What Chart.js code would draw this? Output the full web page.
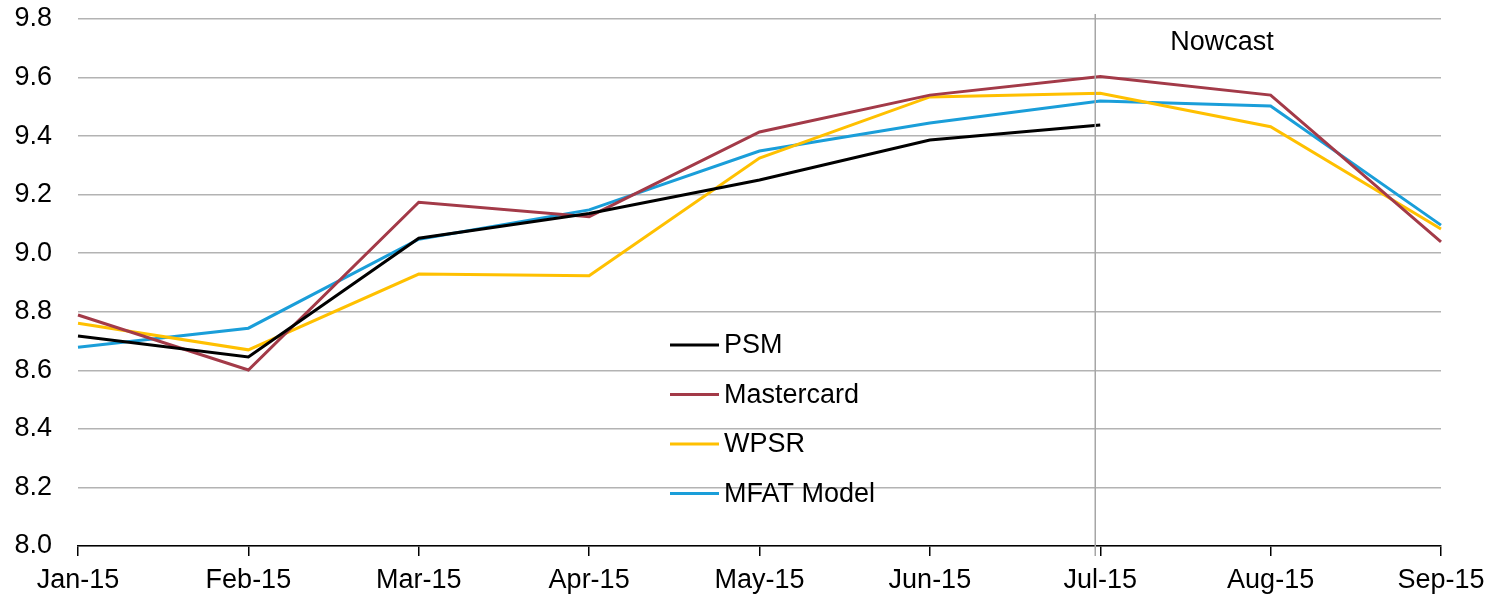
<!DOCTYPE html>
<html>
<head>
<meta charset="utf-8">
<script src="https://cdn.jsdelivr.net/npm/chart.js@4/dist/chart.umd.min.js"></script>
<style>
html,body{margin:0;padding:0;background:#fff;}
#wrap{width:1494px;height:597px;position:relative;}
</style>
</head>
<body>
<div id="wrap"><canvas id="c" width="1494" height="597"></canvas></div>
<script>
const categories = ['Jan-15','Feb-15','Mar-15','Apr-15','May-15','Jun-15','Jul-15','Aug-15','Sep-15'];
const psm        = [8.717, 8.646, 9.051, 9.136, 9.25, 9.387, 9.438, null, null];
const mastercard = [8.789, 8.601, 9.174, 9.125, 9.414, 9.54, 9.604, 9.54, 9.039];
const wpsr       = [8.761, 8.67, 8.929, 8.923, 9.325, 9.534, 9.546, 9.432, 9.083];
const mfat       = [8.679, 8.744, 9.048, 9.148, 9.349, 9.445, 9.52, 9.503, 9.096];
const yTicks     = [8.0, 8.2, 8.4, 8.6, 8.8, 9.0, 9.2, 9.4, 9.6, 9.8];
const nowcastIndex = 6;
const nowcastLabel = 'Nowcast';

const FONT = '"Liberation Sans", Arial, sans-serif';

const overlay = {
  id: 'overlay',
  afterDatasetsDraw(chart) {
    const ctx = chart.ctx;
    const x = chart.scales.x.getPixelForValue(nowcastIndex) - 5;
    ctx.save();
    ctx.strokeStyle = '#a6a6a6';
    ctx.lineWidth = 1.5;
    ctx.beginPath();
    ctx.moveTo(x, 14);
    ctx.lineTo(x, 556);
    ctx.stroke();
    ctx.fillStyle = '#000';
    ctx.font = '27px ' + FONT;
    ctx.textAlign = 'center';
    ctx.textBaseline = 'middle';
    ctx.fillText(nowcastLabel, 1222, 43);
    // legend
    const lx = 670, ly0 = 345, dy = 49.5;
    chart.data.datasets.forEach((ds, i) => {
      const y = ly0 + i * dy;
      ctx.strokeStyle = ds.borderColor;
      ctx.lineWidth = 3;
      ctx.beginPath();
      ctx.moveTo(lx, y);
      ctx.lineTo(lx + 49, y);
      ctx.stroke();
      ctx.fillStyle = '#000';
      ctx.textAlign = 'left';
      ctx.fillText(ds.label, lx + 54, y + 1);
    });
    ctx.restore();
  }
};

new Chart(document.getElementById('c'), {
  type: 'line',
  data: {
    labels: categories,
    datasets: [
      {label:'PSM', data: psm, borderColor:'#000000'},
      {label:'Mastercard', data: mastercard, borderColor:'#a33a48'},
      {label:'WPSR', data: wpsr, borderColor:'#ffc000'},
      {label:'MFAT Model', data: mfat, borderColor:'#1a9ed9'}
    ].map(d => Object.assign(d, {borderWidth:3, pointRadius:0, tension:0, fill:false, spanGaps:false}))
  },
  options: {
    responsive: false,
    animation: false,
    layout: {padding: {top: 19, right: 53, left: 0, bottom: 0}},
    plugins: {legend: {display:false}, tooltip: {enabled:false}},
    scales: {
      x: {
        type: 'category',
        offset: false,
        grid: {drawOnChartArea:false, drawTicks:true, tickLength:10, color:'#000', lineWidth:1.5},
        border: {display:true, color:'#000', width:1.5},
        ticks: {color:'#000', font:{family:FONT, size:27}, padding:8, maxRotation:0, autoSkip:false},
        afterFit(s){ s.height = 51; s.paddingLeft = 0; s.paddingRight = 0; }
      },
      y: {
        min: 8.0, max: 9.8,
        afterBuildTicks(s){ s.ticks = yTicks.map(v => ({value:v})); },
        grid: {color:'#b3b3b3', lineWidth:1.5, drawTicks:false},
        border: {display:false},
        ticks: {color:'#000', font:{family:FONT, size:27}, padding:26, callback: v => Number(v).toFixed(1)},
        afterFit(s){ s.width = 78; s.paddingTop = 0; s.paddingBottom = 0; }
      }
    }
  },
  plugins: [overlay]
});
</script>
</body>
</html>
